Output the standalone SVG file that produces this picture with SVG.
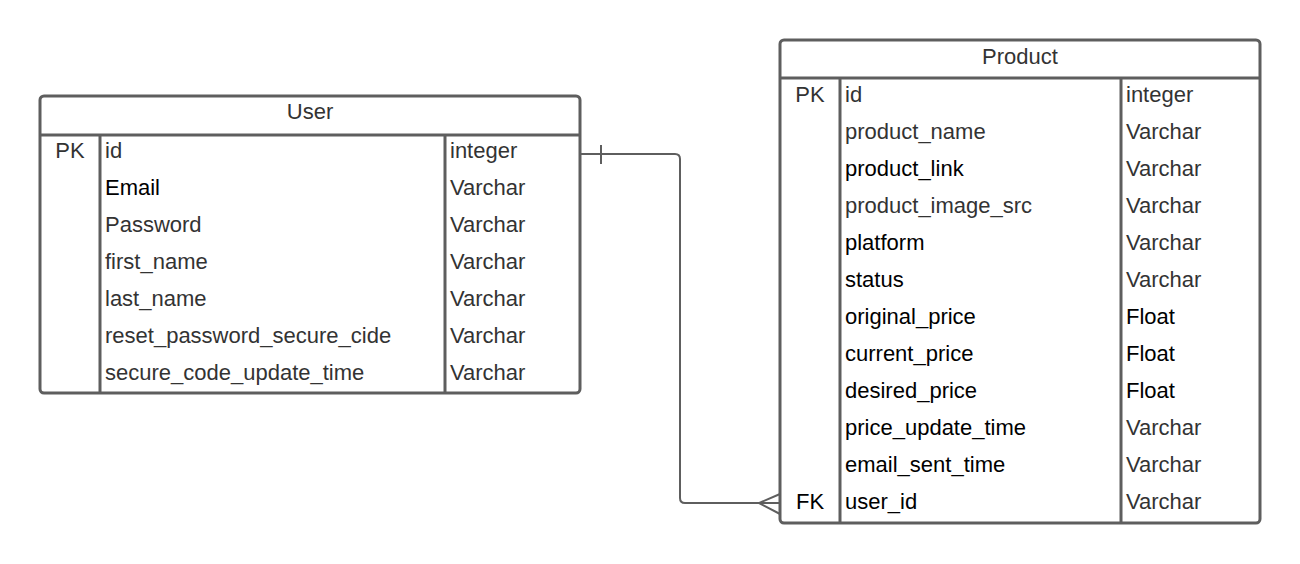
<svg xmlns="http://www.w3.org/2000/svg" width="1300" height="564" viewBox="0 0 1300 564">
<style>
.box{fill:#fff;stroke:#5e5e5e;stroke-width:3}
.ln{stroke:#5e5e5e;stroke-width:3;fill:none}
.con{stroke:#5e5e5e;stroke-width:2;fill:none}
text{font-family:"Liberation Sans",Arial,sans-serif;font-size:22px;fill:#333}
.k{fill:#000}
.c{text-anchor:middle}
</style>
<rect width="1300" height="564" fill="#fff"/>
<g id="connectors">
<path class="con" d="M580,154 H675 Q680,154 680,159 V498 Q680,503 685,503 H780"/>
<path class="con" d="M601,145 V164"/>
<path class="con" d="M780,494 L759,503 L780,514"/>
</g>
<g id="User">
<rect class="box" x="40" y="96" width="540" height="297" rx="4"/>
<line class="ln" x1="40" y1="135" x2="580" y2="135"/>
<line class="ln" x1="100" y1="135" x2="100" y2="393"/>
<line class="ln" x1="445" y1="135" x2="445" y2="393"/>
<text class="c" x="310" y="119">User</text>
<text class="c" x="70" y="158">PK</text>
<text x="105" y="158">id</text>
<text x="450" y="158">integer</text>
<text class="k" x="105" y="195">Email</text>
<text x="450" y="195">Varchar</text>
<text x="105" y="232">Password</text>
<text x="450" y="232">Varchar</text>
<text x="105" y="269">first_name</text>
<text x="450" y="269">Varchar</text>
<text x="105" y="306">last_name</text>
<text x="450" y="306">Varchar</text>
<text x="105" y="343">reset_password_secure_cide</text>
<text x="450" y="343">Varchar</text>
<text x="105" y="380">secure_code_update_time</text>
<text x="450" y="380">Varchar</text>
</g>
<g id="Product">
<rect class="box" x="780" y="40" width="480" height="483" rx="4"/>
<line class="ln" x1="780" y1="78" x2="1260" y2="78"/>
<line class="ln" x1="840" y1="78" x2="840" y2="523"/>
<line class="ln" x1="1121" y1="78" x2="1121" y2="523"/>
<text class="c" x="1020" y="64">Product</text>
<text class="c" x="810" y="102">PK</text>
<text x="845" y="102">id</text>
<text x="1126" y="102">integer</text>
<text x="845" y="139">product_name</text>
<text x="1126" y="139">Varchar</text>
<text class="k" x="845" y="176">product_link</text>
<text x="1126" y="176">Varchar</text>
<text x="845" y="213">product_image_src</text>
<text x="1126" y="213">Varchar</text>
<text class="k" x="845" y="250">platform</text>
<text x="1126" y="250">Varchar</text>
<text class="k" x="845" y="287">status</text>
<text x="1126" y="287">Varchar</text>
<text class="k" x="845" y="324">original_price</text>
<text class="k" x="1126" y="324">Float</text>
<text class="k" x="845" y="361">current_price</text>
<text class="k" x="1126" y="361">Float</text>
<text class="k" x="845" y="398">desired_price</text>
<text class="k" x="1126" y="398">Float</text>
<text class="k" x="845" y="435">price_update_time</text>
<text x="1126" y="435">Varchar</text>
<text class="k" x="845" y="472">email_sent_time</text>
<text x="1126" y="472">Varchar</text>
<text class="c k" x="810" y="509">FK</text>
<text class="k" x="845" y="509">user_id</text>
<text x="1126" y="509">Varchar</text>
</g>
</svg>
